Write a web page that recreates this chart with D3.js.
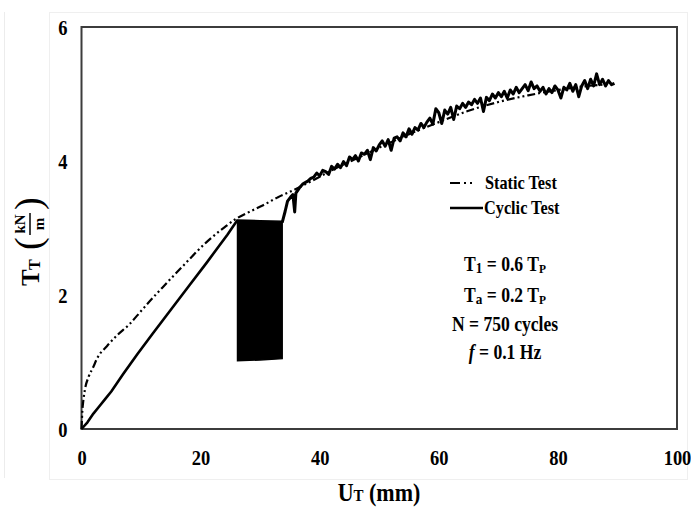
<!DOCTYPE html>
<html>
<head>
<meta charset="utf-8">
<script src="https://cdn.jsdelivr.net/npm/d3@7/dist/d3.min.js"></script>
<style>
  body { margin: 0; background: #fff; }
  svg text { font-family: "Liberation Serif", "Times New Roman", serif; font-weight: bold; fill: #000; }
</style>
</head>
<body>
<div id="chart"></div>
<script>
// axis ticks
const xTicks = [0, 20, 40, 60, 80, 100];
const yTicks = [0, 2, 4, 6];

// static test (U_T in mm, T_T in kN/m)
const staticU = [0, 0.15, 0.3, 0.6, 1.2, 2, 2.6, 4.3, 6, 8, 10, 12, 14, 17, 21, 24, 26, 28.4, 30.5, 33, 35, 38.4, 42, 46, 50, 55, 60, 65, 70, 75, 80, 85, 89];
const staticT = [0, 0.28, 0.42, 0.6, 0.78, 0.93, 1.05, 1.24, 1.4, 1.56, 1.76, 1.96, 2.15, 2.43, 2.79, 3.01, 3.14, 3.25, 3.34, 3.46, 3.54, 3.69, 3.86, 4.03, 4.2, 4.4, 4.58, 4.75, 4.88, 4.98, 5.06, 5.12, 5.15];

// cyclic test, loading up to the start of cycling
const loadU = [0, 1, 2, 3, 4, 5, 6, 7, 9.4, 12, 15, 18, 21, 23, 24.5, 25.5, 26.2];
const loadT = [0, 0.1, 0.23, 0.34, 0.45, 0.56, 0.69, 0.82, 1.12, 1.43, 1.78, 2.13, 2.48, 2.72, 2.9, 3.03, 3.12];

// 750 cycles between Tmin and Tmax (envelope of the cycles)
const cycleU = [26.2, 30, 33.7];
const cycleMax = [3.12, 3.11, 3.1];
const cycleMin = [1.02, 1.03, 1.05];

// cyclic test, monotonic loading after cycling
const postU = [33.7, 34.2, 34.6, 35.2, 35.5, 35.8, 36.0, 36.6, 37.2, 38.0, 38.5,
  39, 39.5, 40, 40.5, 41, 41.5, 42, 42.5, 43, 43.5,
  44, 44.5, 45, 45.5, 46, 46.5, 47, 47.5, 48, 48.5,
  49, 49.5, 50, 50.5, 51, 51.5, 52, 52.5, 53, 53.5,
  54, 54.5, 55, 55.5, 56, 56.5, 57, 57.5, 58, 58.5,
  59, 59.5, 60, 60.5, 61, 61.5, 62, 62.5, 63, 63.5,
  64, 64.5, 65, 65.5, 66, 66.5, 67, 67.5, 68, 68.5,
  69, 69.5, 70, 70.5, 71, 71.5, 72, 72.5, 73, 73.5,
  74, 74.5, 75, 75.5, 76, 76.5, 77, 77.5, 78, 78.5,
  79, 79.5, 80, 80.5, 81, 81.5, 82, 82.5, 83, 83.5,
  84, 84.5, 85, 85.5, 86, 86.5, 87, 87.5, 88, 88.5,
  89, 89.5];
const postT = [3.08, 3.25, 3.40, 3.47, 3.50, 3.24, 3.52, 3.60, 3.66, 3.70, 3.74,
  3.76, 3.82, 3.78, 3.86, 3.84, 3.80, 3.92, 3.88, 3.95, 3.90,
  3.99, 3.93, 4.06, 4.02, 4.08, 4.00, 4.12, 4.10, 4.16, 4.02,
  4.20, 4.15, 4.24, 4.30, 4.22, 4.32, 4.16, 4.34, 4.36, 4.30,
  4.42, 4.36, 4.48, 4.40, 4.50, 4.46, 4.56, 4.50, 4.58, 4.64,
  4.55, 4.78, 4.72, 4.56, 4.76, 4.70, 4.80, 4.62, 4.82, 4.78,
  4.86, 4.80, 4.88, 4.84, 4.92, 4.86, 4.94, 4.74, 4.95, 4.90,
  5.00, 4.94, 5.02, 4.96, 5.04, 4.94, 5.06, 5.00, 5.10, 5.02,
  5.08, 5.14, 5.05, 5.18, 5.08, 5.12, 5.04, 5.10, 5.00, 5.08,
  5.02, 5.12, 5.06, 4.94, 5.10, 5.06, 5.16, 5.04, 5.14, 4.96,
  5.12, 5.20, 5.08, 5.22, 5.12, 5.30, 5.14, 5.22, 5.12, 5.20,
  5.14, 5.16];

const width = 691, height = 508;
const margin = {left: 81.5, right: 14, top: 27, bottom: 79};
const sx = 0.88; // the source font looks horizontally squeezed

const svg = d3.select("#chart").append("svg")
  .attr("width", width)
  .attr("height", height);

// faint outer picture borders
svg.append("line").attr("x1", 4.5).attr("x2", 4.5).attr("y1", 12).attr("y2", 478)
  .attr("stroke", "#ececec");
svg.append("rect").attr("x", 49.5).attr("y", 12.5).attr("width", 638).attr("height", 467)
  .attr("fill", "none").attr("stroke", "#efefef");

const x = d3.scaleLinear().domain([0, 100]).range([margin.left, width - margin.right]);
const y = d3.scaleLinear().domain([0, 6]).range([height - margin.bottom, margin.top]);

// plot frame
svg.append("rect")
  .attr("x", x(0)).attr("y", y(6))
  .attr("width", x(100) - x(0)).attr("height", y(0) - y(6))
  .attr("fill", "none").attr("stroke", "#3c3c3c").attr("stroke-width", 2);

// axes
const xAxis = svg.append("g")
  .attr("transform", "translate(0," + y(0) + ")")
  .call(d3.axisBottom(x).tickValues(xTicks).tickSize(0).tickPadding(21).tickFormat(d3.format("d")));
const yAxis = svg.append("g")
  .attr("transform", "translate(" + x(0) + ",0)")
  .call(d3.axisLeft(y).tickValues(yTicks).tickSize(0).tickPadding(16).tickFormat(d3.format("d")));
xAxis.select(".domain").remove();
yAxis.select(".domain").remove();
svg.selectAll(".tick text")
  .style("font-family", '"Liberation Serif", serif')
  .style("font-weight", "bold")
  .attr("font-size", 21)
  .attr("transform", "scale(" + sx + ",1)");
yAxis.selectAll(".tick text").attr("dy", "0.34em");

// curves
const line = d3.line().x((d) => x(d[0])).y((d) => y(d[1]));
const staticData = staticU.map((u, i) => [u, staticT[i]]);
const loadData = loadU.map((u, i) => [u, loadT[i]]);
const postData = postU.map((u, i) => [u, postT[i]]);
const cycleData = cycleU.map((u, i) => [u, cycleMin[i], cycleMax[i]]);

svg.append("path")
  .attr("d", line.curve(d3.curveMonotoneX)(staticData))
  .attr("fill", "none").attr("stroke", "#000").attr("stroke-width", 2.2)
  .attr("stroke-dasharray", "8,3,2,3,2,3");

line.curve(d3.curveLinear);
svg.append("path")
  .attr("d", line(loadData))
  .attr("fill", "none").attr("stroke", "#000").attr("stroke-width", 2.6)
  .attr("stroke-linejoin", "round");

const area = d3.area().x((d) => x(d[0])).y0((d) => y(d[1])).y1((d) => y(d[2]));
svg.append("path")
  .attr("d", area(cycleData))
  .attr("fill", "#000").attr("stroke", "#000").attr("stroke-width", 1.5);

svg.append("path")
  .attr("d", line(postData))
  .attr("fill", "none").attr("stroke", "#000").attr("stroke-width", 3)
  .attr("stroke-linejoin", "round");

// text helper: squeezed text placed at (px, py)
function label(parent, px, py, size, anchor) {
  return parent.append("text")
    .attr("transform", "translate(" + px + "," + py + ") scale(" + sx + ",1)")
    .attr("font-size", size)
    .attr("text-anchor", anchor || "start");
}

// legend
const legend = svg.append("g");
legend.append("line").attr("x1", 450).attr("x2", 482).attr("y1", 183).attr("y2", 183)
  .attr("stroke", "#000").attr("stroke-width", 2.2).attr("stroke-dasharray", "10,4,2,4,2,10");
label(legend, 485, 189, 18.5).text("Static Test");
legend.append("line").attr("x1", 450).attr("x2", 483).attr("y1", 208).attr("y2", 208)
  .attr("stroke", "#000").attr("stroke-width", 2.6);
label(legend, 484, 214, 18.5).text("Cyclic Test");

// test conditions
const note = svg.append("g");
let t = label(note, 505, 271, 20, "middle");
t.append("tspan").text("T");
t.append("tspan").attr("font-size", 15).attr("dy", 2).text("1");
t.append("tspan").attr("dy", -2).text(" = 0.6 T");
t.append("tspan").attr("font-size", 13).attr("dy", 2).text("P");

t = label(note, 505, 302, 20, "middle");
t.append("tspan").text("T");
t.append("tspan").attr("font-size", 15).attr("dy", 2).text("a");
t.append("tspan").attr("dy", -2).text(" = 0.2 T");
t.append("tspan").attr("font-size", 13).attr("dy", 2).text("P");

label(note, 505, 331, 20, "middle").text("N = 750 cycles");

t = label(note, 505, 359, 20, "middle");
t.append("tspan").attr("font-style", "italic").text("f");
t.append("tspan").text(" = 0.1 Hz");

// x axis title
t = label(svg, 379, 501, 25, "middle");
t.append("tspan").text("U");
t.append("tspan").attr("font-size", 17).text("T");
t.append("tspan").text(" (mm)");

// y axis title, built in a rotated frame
const yt = svg.append("g").attr("transform", "translate(39,286) rotate(-90)");
yt.append("text").attr("x", 0).attr("y", 0).attr("font-size", 25).text("T");
yt.append("text").attr("x", 16).attr("y", 1).attr("font-size", 16).text("T");
yt.append("text").attr("x", 36).attr("y", 2).attr("font-size", 38)
  .style("font-weight", "normal").text("(");
yt.append("text").attr("x", 62).attr("y", -14).attr("font-size", 15)
  .attr("text-anchor", "middle").text("kN");
yt.append("line").attr("x1", 51).attr("x2", 73).attr("y1", -9).attr("y2", -9)
  .attr("stroke", "#000").attr("stroke-width", 1.5);
yt.append("text").attr("x", 62).attr("y", 5).attr("font-size", 15)
  .attr("text-anchor", "middle").text("m");
yt.append("text").attr("x", 76).attr("y", 2).attr("font-size", 38)
  .style("font-weight", "normal").text(")");
</script>
</body>
</html>
